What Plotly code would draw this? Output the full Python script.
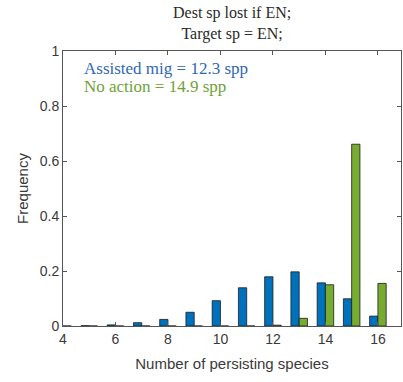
import plotly.graph_objects as go

# Number of persisting species (bar positions)
species = [4, 5, 6, 7, 8, 9, 10, 11, 12, 13, 14, 15, 16]

# Frequency of each outcome under the two strategies
assisted_mig = [0.0, 0.001, 0.004, 0.012, 0.024, 0.050, 0.092, 0.139, 0.179, 0.197, 0.157, 0.099, 0.036]
no_action = [0.0, 0.0, 0.0, 0.0, 0.0, 0.0, 0.0, 0.0, 0.003, 0.028, 0.150, 0.661, 0.155]

title_lines = ["Dest sp lost if EN;", "Target sp = EN;"]
label_assisted = "Assisted mig = 12.3 spp"
label_no_action = "No action = 14.9 spp"

x_ticks = [4, 6, 8, 10, 12, 14, 16]
y_ticks = [0, 0.2, 0.4, 0.6, 0.8, 1]

BLUE = "#0072BD"
GREEN = "#77AC30"
AXIS = "#555555"
SERIF = "Liberation Serif, Times New Roman, serif"
SANS = "Liberation Sans, Arial, sans-serif"

fig = go.Figure()
fig.add_trace(go.Bar(x=species, y=assisted_mig, name="Assisted mig",
                     marker=dict(color=BLUE, line=dict(color="#1a1a1a", width=0.8))))
fig.add_trace(go.Bar(x=species, y=no_action, name="No action",
                     marker=dict(color=GREEN, line=dict(color="#1a1a1a", width=0.8))))

axis_common = dict(
    showline=True, linecolor=AXIS, linewidth=1, mirror="allticks",
    ticks="inside", ticklen=4, tickcolor=AXIS, tickwidth=1,
    showgrid=False, zeroline=False,
    tickfont=dict(family=SANS, size=14, color="#3a3a3a"),
)

fig.update_layout(
    width=403, height=382,
    margin=dict(l=63, r=2, t=51, b=56),
    paper_bgcolor="white", plot_bgcolor="white",
    barmode="group", bargap=0.37, bargroupgap=0.0,
    showlegend=False,
    xaxis=dict(axis_common, range=[4, 16.88], tickvals=x_ticks,
               title=dict(text="Number of persisting species",
                          font=dict(family=SANS, size=15, color="#3a3a3a"), standoff=12)),
    yaxis=dict(axis_common, range=[0, 1], tickvals=y_ticks,
               title=dict(text="Frequency",
                          font=dict(family=SANS, size=15, color="#3a3a3a"), standoff=7)),
)

fig.add_annotation(text=title_lines[0] + "<br>" + title_lines[1],
                   xref="paper", yref="paper", x=0.5, y=1.0, yshift=6,
                   xanchor="center", yanchor="bottom", showarrow=False,
                   font=dict(family=SERIF, size=16, color="#2a2a2a"))
fig.add_annotation(text=label_assisted, xref="paper", yref="paper",
                   x=0.055, y=0.935, xanchor="left", yanchor="middle", showarrow=False,
                   font=dict(family=SERIF, size=17, color="#2f68b5"))
fig.add_annotation(text=label_no_action, xref="paper", yref="paper",
                   x=0.055, y=0.87, xanchor="left", yanchor="middle", showarrow=False,
                   font=dict(family=SERIF, size=17, color="#6fa23a"))

fig.write_html("out.html")
